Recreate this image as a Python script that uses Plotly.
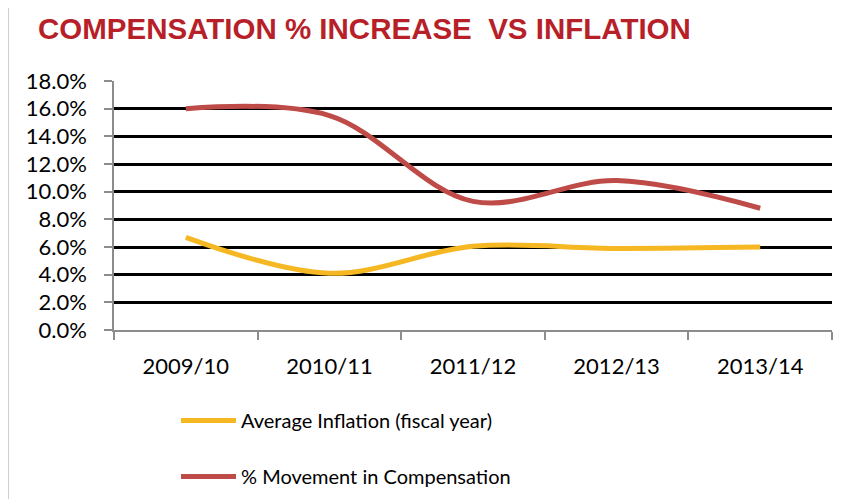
import plotly.graph_objects as go

years = ["2009/10", "2010/11", "2011/12", "2012/13", "2013/14"]
inflation = [6.7, 4.1, 6.05, 5.9, 6.0]
compensation = [16.0, 15.5, 9.3, 10.8, 8.8]
y_ticks = [0, 2, 4, 6, 8, 10, 12, 14, 16, 18]
y_labels = [f"{v:.1f}%" for v in y_ticks]

YELLOW = "#F5B822"
RED = "#BE4B48"
GRAY = "#8C8C8C"

fig = go.Figure()
fig.add_trace(go.Scatter(x=years, y=inflation, mode="lines", name="Average Inflation (fiscal year)",
                         line=dict(color=YELLOW, width=5, shape="spline", smoothing=1),
                         legendgroup="a"))
fig.add_trace(go.Scatter(x=years, y=compensation, mode="lines", name="% Movement in Compensation",
                         line=dict(color=RED, width=5, shape="spline", smoothing=1),
                         legendgroup="b"))

fig.update_layout(
    width=851, height=491,
    margin=dict(l=106, r=27, t=73, b=169, autoexpand=False),
    paper_bgcolor="white", plot_bgcolor="white",
    font=dict(family="Lato", color="black"),
    showlegend=True,
    legend=dict(x=(176 - 114) / 718, xanchor="left", y=-0.285, yanchor="top",
                font=dict(size=20, family="Lato"), traceorder="grouped",
                tracegroupgap=27, itemwidth=55, bgcolor="rgba(0,0,0,0)"),
    xaxis=dict(type="category", range=[-0.5, 4.5], showline=True, linecolor=GRAY, linewidth=1.5,
               ticks="outside", tickson="boundaries", ticklen=8, tickcolor=GRAY, tickwidth=1.5,
               showgrid=False, tickfont=dict(size=22), ticklabelstandoff=16),
    yaxis=dict(range=[0, 18], tickvals=y_ticks, ticktext=y_labels, showline=True, linecolor=GRAY,
               linewidth=1.5, ticks="outside", ticklen=8, tickcolor=GRAY, tickwidth=1.5,
               showgrid=True, gridcolor="black", gridwidth=3, zeroline=False,
               tickfont=dict(size=22), ticklabelstandoff=13),
    shapes=[dict(type="rect", xref="paper", yref="paper", x0=(8 - 114) / 718, x1=1.2,
                 y0=-1.0, y1=(330 - 6) / 249, line=dict(color="#A0A0A0", width=1), layer="below")],
    annotations=[dict(text="<b>COMPENSATION % INCREASE\u00a0\u00a0VS INFLATION</b>", xref="paper", yref="paper",
                      x=(36 - 114) / 718, xanchor="left", y=(330 - 28) / 249, yanchor="middle",
                      showarrow=False, font=dict(family="Liberation Sans", size=29.5, color="#B71F29"))],
)

fig.write_html("out.html")
